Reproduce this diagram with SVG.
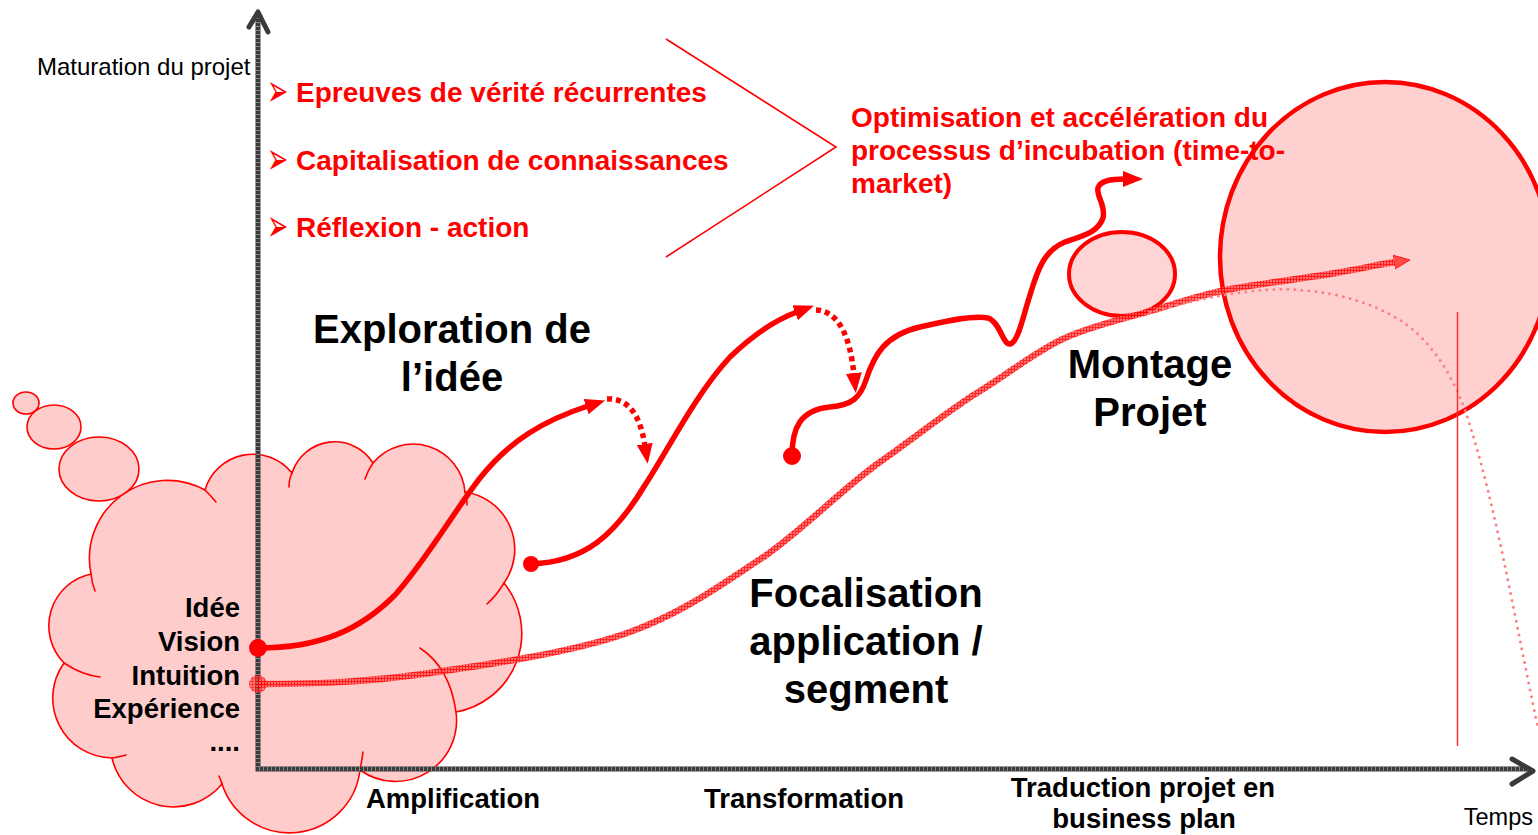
<svg xmlns="http://www.w3.org/2000/svg" width="1538" height="835" viewBox="0 0 1538 835">
  <style>
    .sans { font-family: "Liberation Sans", Arial, Helvetica, sans-serif; }
    .bullet { font-family: "DejaVu Sans", "Liberation Sans", sans-serif; font-size: 30px; fill: #ff0000; }
    .red { font-weight: bold; font-size: 28px; fill: #ff0000; }
    .big { font-weight: bold; font-size: 40px; fill: #000; text-anchor: middle; }
    .mid { font-weight: bold; font-size: 27.5px; fill: #000; }
    .plain { font-size: 24px; fill: #000; }
    .cloud { fill: #ffcccc; stroke: #ff0000; stroke-width: 1.6; }
    .seam { fill: none; stroke: #ff0000; stroke-width: 1.6; stroke-linecap: round; }
    .axis { fill: none; stroke: #3a3a3a; stroke-width: 5; }
    .axis-tick { fill: none; stroke: #8a8a8a; stroke-width: 5; stroke-dasharray: 1 3; }
    .chevron { fill: none; stroke: #3a3a3a; stroke-width: 5; stroke-linecap: round; stroke-linejoin: round; }
    .path-solid { fill: none; stroke: #ff0000; stroke-width: 5.5; stroke-linecap: round; }
    .path-dotted { fill: none; stroke: #ff0000; stroke-width: 5.5; stroke-dasharray: 5 4; }
    .dot { fill: #ff0000; }
  </style>
  <defs>
    <pattern id="hatch" width="3" height="3" patternUnits="userSpaceOnUse">
      <rect width="3" height="3" fill="#ff5c5c"/>
      <path d="M0,0.5H3M0.5,0V3" stroke="#ff0000" stroke-width="1"/>
    </pattern>
    <marker id="arrow" markerUnits="userSpaceOnUse" markerWidth="22" markerHeight="18" refX="2" refY="8" orient="auto">
      <path d="M0,0 L20,8 L0,16 Z" fill="#ff0000"/>
    </marker>
    <marker id="arrow-hatch" markerUnits="userSpaceOnUse" markerWidth="20" markerHeight="16" refX="1" refY="7" orient="auto">
      <path d="M0,0 L16,7 L0,14 Z" fill="#ff4a4a" stroke="#ff0000" stroke-width="0.8"/>
    </marker>
  </defs>

  <!-- thought cloud with its trailing bubbles -->
  <g id="cloud">
    <ellipse class="cloud" cx="26" cy="403" rx="13" ry="11"/>
    <ellipse class="cloud" cx="54" cy="427" rx="27" ry="22"/>
    <ellipse class="cloud" cx="99" cy="469" rx="40" ry="32"/>
    <path class="cloud" d="M91,574 A78,78 0 0 1 205,490 A50,50 0 0 1 292,473 A45,45 0 0 1 373,463 A52,52 0 0 1 465,492 A58,58 0 0 1 504,583 A80,80 0 0 1 456,712 A61,61 0 0 1 360,770 A71,71 0 0 1 222,784 A63,63 0 0 1 112,758 A60,60 0 0 1 64,663 A53,53 0 0 1 91,574 Z"/>
    <path class="seam" d="M91,574 Q92,583 95,591"/>
    <path class="seam" d="M205,490 Q211,496 216,502"/>
    <path class="seam" d="M292,473 Q289,479 289,487"/>
    <path class="seam" d="M373,463 Q368,470 365,479"/>
    <path class="seam" d="M465,492 Q467,497 467,505"/>
    <path class="seam" d="M504,583 Q497,595 487,604"/>
    <path class="seam" d="M456,712 Q450,668 420,648"/>
    <path class="seam" d="M360,770 Q362,760 363,752"/>
    <path class="seam" d="M222,784 Q221,780 219,776"/>
    <path class="seam" d="M112,758 Q119,757 126,755"/>
    <path class="seam" d="M64,663 Q82,675 100,677"/>
  </g>

  <!-- axes -->
  <g id="axes">
    <path class="axis" d="M258,14 V769 H1530"/>
    <path class="axis-tick" d="M258,14 V769 H1530"/>
    <path class="chevron" d="M249,27 L258,12 L268,32"/>
    <path class="chevron" d="M1512,759 L1533,771 L1512,784"/>
    <text class="sans plain" x="37" y="75">Maturation du projet</text>
    <text class="sans plain" x="1533" y="825" text-anchor="end" style="font-size:23.5px">Temps</text>
  </g>

  <!-- target zone fill (outline drawn later, over the text) -->
  <g id="target-zone">
    <ellipse cx="1385" cy="257" rx="165" ry="175" fill="#ffd0d0"/>
  </g>

  <!-- stage labels -->
  <g id="stage-labels" class="sans">
    <text class="big" x="452" y="343">Exploration de</text>
    <text class="big" x="452" y="391">l’idée</text>
    <text class="big" x="866" y="607">Focalisation</text>
    <text class="big" x="866" y="655">application /</text>
    <text class="big" x="866" y="703">segment</text>
    <text class="big" x="1150" y="378">Montage</text>
    <text class="big" x="1150" y="426">Projet</text>
    <text class="mid" x="453" y="808" text-anchor="middle">Amplification</text>
    <text class="mid" x="804" y="808" text-anchor="middle">Transformation</text>
    <text class="mid" x="1143" y="797" text-anchor="middle">Traduction projet en</text>
    <text class="mid" x="1144" y="828" text-anchor="middle">business plan</text>
  </g>

  <!-- contents of the thought cloud -->
  <g id="cloud-labels" class="sans mid" text-anchor="end">
    <text x="240" y="617">Idée</text>
    <text x="240" y="651">Vision</text>
    <text x="240" y="685">Intuition</text>
    <text x="240" y="718">Expérience</text>
    <text x="240" y="751">....</text>
  </g>

  <!-- principles list -->
  <g id="principles">
    <text class="bullet" transform="translate(267,92) scale(0.85,1.5)" y="9">➢</text>
    <text class="bullet" transform="translate(267,160) scale(0.85,1.5)" y="9">➢</text>
    <text class="bullet" transform="translate(267,227) scale(0.85,1.5)" y="9">➢</text>
    <text class="sans red" x="296" y="102">Epreuves de vérité récurrentes</text>
    <text class="sans red" x="296" y="170">Capitalisation de connaissances</text>
    <text class="sans red" x="296" y="237">Réflexion - action</text>
    <path d="M666,39 L836,147 L666,257" fill="none" stroke="#ff0000" stroke-width="1.6"/>
  </g>

  <!-- outcome -->
  <g id="outcome" class="sans red">
    <text x="851" y="127">Optimisation et accélération du</text>
    <text x="851" y="160">processus d’incubation (time-to-</text>
    <text x="851" y="193">market)</text>
  </g>

  <g id="target-outline">
    <ellipse cx="1385" cy="257" rx="165" ry="175" fill="none" stroke="#ff0000" stroke-width="4.5"/>
  </g>
  <g id="milestone">
    <ellipse cx="1122" cy="274" rx="53" ry="42" fill="#ffd4d4" stroke="#ff0000" stroke-width="4"/>
  </g>

  <g id="connectors">
    <!-- standard maturation curve -->
    <path d="M258,684 C320,684 368,682 430,673 C492,664 575,652 630,632 C685,612 722,584 765,556 C805,528 843,488 880,462 C917,436 949,410 980,391 C1011,372 1036,351 1065,338 C1094,325 1127,318 1154,310 C1181,302 1196,296 1226,290 C1256,284 1307,278 1336,273 C1365,268 1380,264 1395,262" fill="none" stroke="url(#hatch)" stroke-width="6.5" stroke-opacity="0.85" marker-end="url(#arrow-hatch)"/>
    <circle cx="258" cy="684" r="9" fill="url(#hatch)" fill-opacity="0.7"/>
    <!-- decline after the target -->
    <path d="M1150,312 C1200,298 1260,286 1300,290 C1340,293 1372,303 1400,320 C1430,340 1450,370 1465,410 C1485,470 1500,540 1515,615 C1525,665 1532,700 1538,728" fill="none" stroke="#ff8080" stroke-width="3" stroke-linecap="round" stroke-dasharray="0 7"/>
    <path d="M1457.5,312 V746" stroke="#ff3030" stroke-width="1.5"/>

    <!-- accelerated path -->
    <path class="path-solid" d="M258,648 C320,648 360,630 395,595 C425,562 455,510 480,478 C510,440 545,420 588,406" marker-end="url(#arrow)"/>
    <path class="path-dotted" d="M607,399 C628,398 640,414 645,446" marker-end="url(#arrow)"/>
    <path class="path-solid" d="M531,564 C585,562 615,535 645,485 C668,450 695,395 730,357 C752,336 775,320 797,312" marker-end="url(#arrow)"/>
    <path class="path-dotted" d="M816,310 C838,311 850,335 854,375" marker-end="url(#arrow)"/>
    <path class="path-solid" d="M792,456 C792,428 800,410 830,407 C852,405 860,398 866,380 C874,355 885,335 920,327 C950,320 975,315 988,318 C1000,322 1003,345 1010,344 C1018,342 1022,320 1030,295 C1038,268 1045,250 1065,242 C1085,235 1098,232 1103,218 C1106,205 1096,196 1098,188 C1100,181 1110,179 1125,179" marker-end="url(#arrow)"/>
    <circle class="dot" cx="258" cy="648" r="9"/>
    <circle class="dot" cx="531" cy="564" r="8"/>
    <circle class="dot" cx="792" cy="456" r="9"/>
  </g>
</svg>
